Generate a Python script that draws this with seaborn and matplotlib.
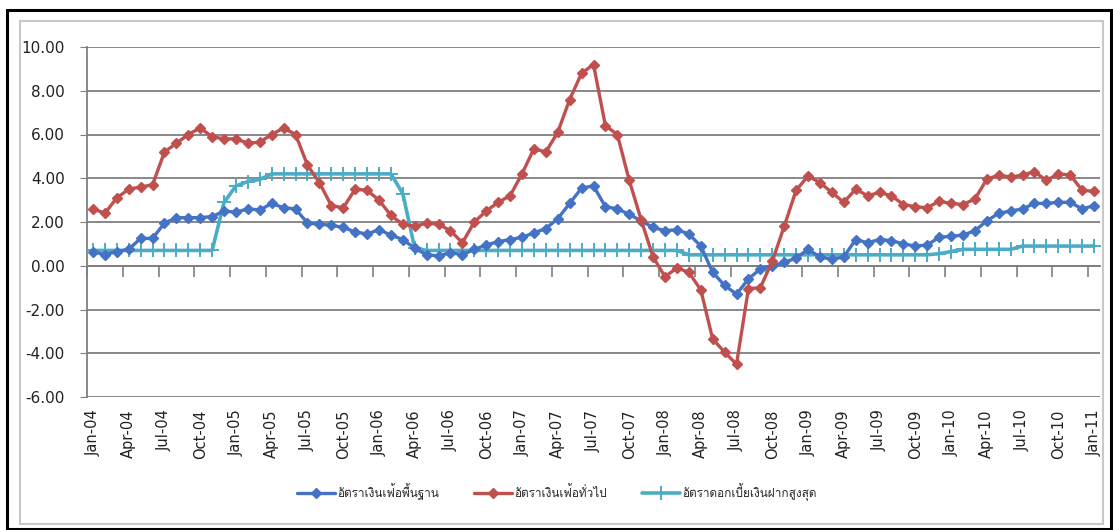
import numpy as np
import pandas as pd
import matplotlib
matplotlib.use("Agg")
import matplotlib.pyplot as plt
import seaborn as sns
from matplotlib import font_manager
from matplotlib.ft2font import FT2Font
from matplotlib.patches import Rectangle, FancyBboxPatch

# ---------------- data ----------------
tick_labels = ["Jan-04", "Apr-04", "Jul-04", "Oct-04", "Jan-05", "Apr-05", "Jul-05", "Oct-05",
               "Jan-06", "Apr-06", "Jul-06", "Oct-06", "Jan-07", "Apr-07", "Jul-07", "Oct-07",
               "Jan-08", "Apr-08", "Jul-08", "Oct-08", "Jan-09", "Apr-09", "Jul-09", "Oct-09",
               "Jan-10", "Apr-10", "Jul-10", "Oct-10", "Jan-11"]
months = pd.date_range("2004-01-01", "2011-01-01", freq="MS").strftime("%b-%y").tolist()

series_names = ["อัตราเงินเฟ้อพื้นฐาน", "อัตราเงินเฟ้อทั่วไป", "อัตราดอกเบี้ยเงินฝากสูงสุด"]

core_inflation = [0.65, 0.5, 0.65, 0.75, 1.25, 1.25, 1.95, 2.2, 2.2, 2.2, 2.25, 2.5,
                  2.45, 2.6, 2.55, 2.85, 2.65, 2.6, 1.95, 1.9, 1.85, 1.75, 1.55, 1.45,
                  1.65, 1.4, 1.2, 0.8, 0.5, 0.45, 0.6, 0.5, 0.75, 0.95, 1.1, 1.2,
                  1.3, 1.5, 1.7, 2.15, 2.85, 3.55, 3.65, 2.7, 2.6, 2.35, 2.05, 1.75,
                  1.6, 1.65, 1.45, 0.9, -0.3, -0.9, -1.3, -0.6, -0.15, 0.0, 0.15, 0.35,
                  0.75, 0.4, 0.3, 0.4, 1.2, 1.05, 1.2, 1.15, 1.0, 0.9, 0.95, 1.3,
                  1.35, 1.4, 1.6, 2.05, 2.4, 2.5, 2.6, 2.85, 2.85, 2.9, 2.9, 2.6, 2.75]

headline_inflation = [2.6, 2.4, 3.1, 3.5, 3.6, 3.7, 5.2, 5.6, 6.0, 6.3, 5.9, 5.8,
                      5.8, 5.6, 5.65, 6.0, 6.3, 6.0, 4.6, 3.8, 2.75, 2.65, 3.5, 3.45,
                      3.0, 2.3, 1.9, 1.8, 1.95, 1.9, 1.6, 1.05, 2.0, 2.5, 2.9, 3.2,
                      4.2, 5.35, 5.2, 6.1, 7.6, 8.8, 9.2, 6.4, 6.0, 3.9, 2.1, 0.4,
                      -0.5, -0.1, -0.3, -1.1, -3.35, -3.95, -4.5, -1.05, -1.0, 0.2, 1.8, 3.45,
                      4.1, 3.8, 3.35, 2.9, 3.5, 3.2, 3.35, 3.2, 2.8, 2.7, 2.65, 2.95,
                      2.85, 2.8, 3.05, 3.95, 4.15, 4.05, 4.15, 4.3, 3.9, 4.2, 4.15, 3.45, 3.4]

deposit_rate = [0.7, 0.7, 0.7, 0.7, 0.7, 0.7, 0.7, 0.7, 0.7, 0.7, 0.7, 2.9,
                3.65, 3.85, 3.95, 4.2, 4.2, 4.2, 4.2, 4.2, 4.2, 4.2, 4.2, 4.2,
                4.2, 4.2, 3.3, 0.8, 0.7, 0.7, 0.7, 0.7, 0.7, 0.7, 0.7, 0.7,
                0.7, 0.7, 0.7, 0.7, 0.7, 0.7, 0.7, 0.7, 0.7, 0.7, 0.7, 0.7,
                0.7, 0.7, 0.5, 0.5, 0.5, 0.5, 0.5, 0.5, 0.5, 0.5, 0.5, 0.5,
                0.5, 0.5, 0.5, 0.5, 0.5, 0.5, 0.5, 0.5, 0.5, 0.5, 0.5, 0.55,
                0.65, 0.75, 0.75, 0.75, 0.75, 0.75, 0.9, 0.9, 0.9, 0.9, 0.9, 0.9, 0.9]

y_ticks = [-6, -4, -2, 0, 2, 4, 6, 8, 10]

# ---------------- fonts ----------------
def find_thai_font():
    for f in font_manager.fontManager.ttflist:
        try:
            cmap = FT2Font(f.fname).get_charmap()
            if 0x0E2D in cmap and 0x0E49 in cmap:
                return f.name
        except Exception:
            pass
    return None

sns.set_style("white")
thai = find_thai_font()
families = ["DejaVu Sans"] + ([thai] if thai else [])
plt.rcParams["font.family"] = families

# ---------------- frame ----------------
W, H = 1113, 530
fig = plt.figure(figsize=(W / 100, H / 100), dpi=100)
fig.patch.set_facecolor("white")

def fx(px):
    return px / W

def fy(py):
    return 1 - py / H

ax = fig.add_axes([fx(87), fy(397), fx(1100) - fx(87), fy(47) - fy(397)])

colors = {"core": "#4472C4", "head": "#C0504D", "dep": "#4BACC6"}

n = len(months)
df = pd.DataFrame({
    "idx": list(range(n)) * 3,
    "value": core_inflation + headline_inflation + deposit_rate,
    "series": [series_names[0]] * n + [series_names[1]] * n + [series_names[2]] * n,
})

sub = df[df.series == series_names[0]]
sns.lineplot(data=sub, x="idx", y="value", ax=ax, color=colors["core"], lw=2.4,
             marker="D", markersize=5.5, markeredgecolor=colors["core"], mew=1,
             label=series_names[0], zorder=4)
sub = df[df.series == series_names[1]]
sns.lineplot(data=sub, x="idx", y="value", ax=ax, color=colors["head"], lw=2.4,
             marker="D", markersize=5.5, markeredgecolor=colors["head"], mew=1,
             label=series_names[1], zorder=5)
sub = df[df.series == series_names[2]]
sns.lineplot(data=sub, x="idx", y="value", ax=ax, color=colors["dep"], lw=2.6,
             marker="+", markersize=10, markeredgecolor=colors["dep"], mew=1.4,
             label=series_names[2], zorder=3)

handles, labels = ax.get_legend_handles_labels()
if ax.get_legend():
    ax.get_legend().remove()

ax.set_xlim(-0.5, n - 0.5)
ax.set_ylim(-6, 10)
ax.set_xlabel("")
ax.set_ylabel("")

ax.set_yticks(y_ticks)
ax.set_yticklabels([f"{v:.2f}" for v in y_ticks], fontsize=11, color="#222222")
ax.yaxis.grid(True, color="#7F7F7F", lw=1.3)
ax.xaxis.grid(False)
ax.set_axisbelow(True)

ax.set_xticks(list(range(0, n, 3)))
ax.set_xticklabels(tick_labels, rotation=90, fontsize=10.5, color="#222222")
ax.tick_params(axis="x", length=0, pad=9)
ax.tick_params(axis="y", direction="out", length=5, color="#7F7F7F", pad=11, left=True)

for s in ["top", "right", "bottom"]:
    ax.spines[s].set_visible(False)
ax.spines["left"].set_color("#7F7F7F")
ax.spines["left"].set_linewidth(1.3)

# horizontal category axis crossing at zero
sec = ax.secondary_xaxis(6 / 16)
sec.set_xticks(list(np.arange(-0.5, n, 3)))
sec.set_xticklabels([])
sec.tick_params(axis="x", direction="out", length=8, color="#7F7F7F", width=1.2)
sec.spines["bottom"].set_color("#7F7F7F")
sec.spines["bottom"].set_linewidth(1.3)

fig.legend(handles, labels, loc="center", bbox_to_anchor=(fx(557), fy(492)), ncol=3,
           frameon=False, fontsize=8.5, handlelength=3.2, columnspacing=3.0,
           handletextpad=0.2)

# chart frames
fig.patches.append(Rectangle((fx(20), fy(524)), fx(1103) - fx(20), fy(21) - fy(524),
                             transform=fig.transFigure, fill=False, ec="#C8C8C8", lw=1.5))
fig.patches.append(Rectangle((fx(7), fy(529)), fx(1111) - fx(7), fy(10) - fy(529),
                             transform=fig.transFigure, fill=False, ec="black", lw=2.2))

fig.savefig("out.png", dpi=100)
